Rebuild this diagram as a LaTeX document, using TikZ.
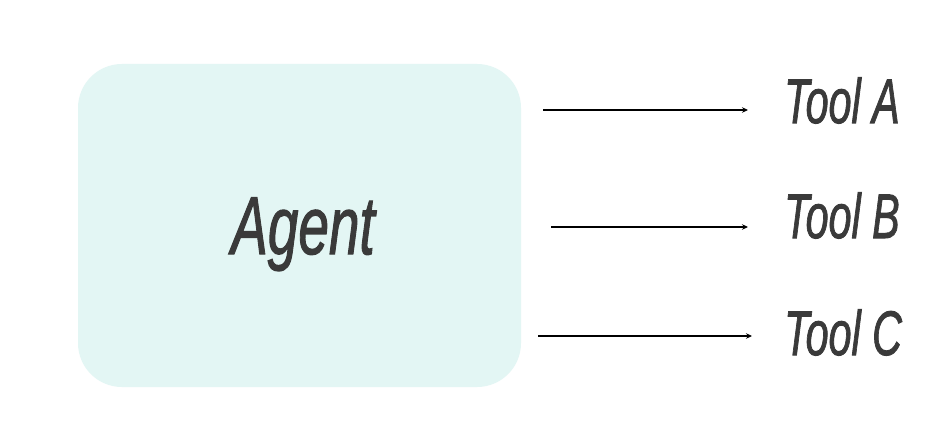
\documentclass[tikz,border=0pt]{standalone}
\usepackage{fontspec}
\setmainfont{Liberation Sans}
\newfontfamily\lblfont[FakeBold=1.6]{Liberation Sans}
\usetikzlibrary{arrows.meta}
\definecolor{boxfill}{HTML}{E3F6F4}
\definecolor{txt}{HTML}{3A3A3A}
\begin{document}
\begin{tikzpicture}[x=1pt,y=-1pt,
  agentbox/.style={fill=boxfill,draw=none,rounded corners=44pt},
  agentlbl/.style={inner sep=0pt,anchor=base,text=txt,font=\lblfont\fontsize{82}{90}\selectfont\itshape},
  toollbl/.style={inner sep=0pt,anchor=base west,text=txt,font=\lblfont\fontsize{63}{70}\selectfont\itshape},
  conn/.style={line width=1.1pt,-{Stealth[length=6pt,width=5.5pt]}}]
\useasboundingbox (0,0) rectangle (944,422);
\fill[white] (0,0) rectangle (944,422);
\path[agentbox] (78,64) rectangle (521,387);
\node[agentlbl] (agent) at (303,254) {\scalebox{0.67}[1]{Agent}};
\node[toollbl] (ta) at (784,123) {\scalebox{0.655}[1]{Tool A}};
\node[toollbl] (tb) at (784,238) {\scalebox{0.655}[1]{Tool B}};
\node[toollbl] (tc) at (784,355) {\scalebox{0.655}[1]{Tool C}};
\coordinate (sa) at (543,110);
\coordinate (ea) at (748,110);
\coordinate (sb) at (551,227);
\coordinate (eb) at (748,227);
\coordinate (sc) at (538,336);
\coordinate (ec) at (752,336);
\draw[conn] (sa) -- (ea);
\draw[conn] (sb) -- (eb);
\draw[conn] (sc) -- (ec);
\end{tikzpicture}
\end{document}
